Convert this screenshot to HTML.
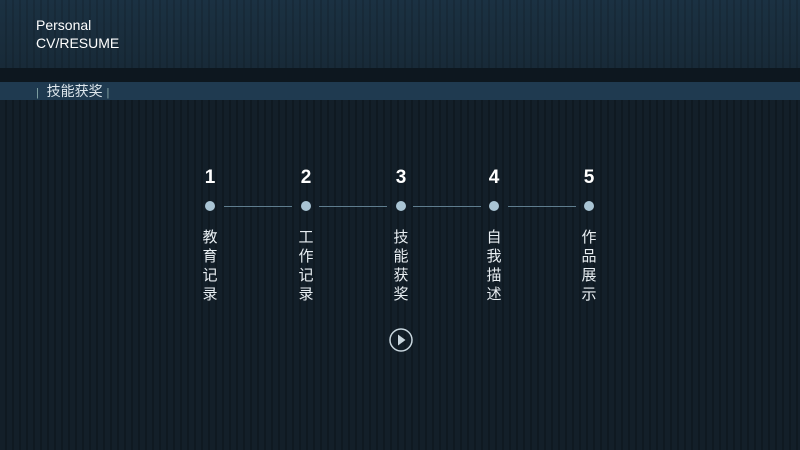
<!DOCTYPE html>
<html><head><meta charset="utf-8"><style>
body{margin:0;width:800px;height:450px;overflow:hidden;background:#121d26;font-family:"Liberation Sans","Noto Sans CJK SC",sans-serif;position:relative}
.bg{position:absolute;inset:0;background:repeating-linear-gradient(90deg,#131f29 0 5px,#0f1921 5px 7px)}
.hdr{position:absolute;left:0;top:0;width:800px;height:68px;background:linear-gradient(#1b3142,#182a38);}
.hdr:after{content:"";position:absolute;inset:0;background:repeating-linear-gradient(90deg,rgba(255,255,255,0.0) 0 5px,rgba(0,0,0,0.12) 5px 7px)}
.strip{position:absolute;left:0;top:68px;width:800px;height:14px;background:#0d171f}
.band{position:absolute;left:0;top:82px;width:800px;height:18px;background:#1f3a50}
.t{position:absolute;color:#fff}
.num{position:absolute;color:#fff;font-size:19px;font-weight:bold;width:30px;text-align:center;top:167px}
.dot{position:absolute;width:10px;height:10px;border-radius:50%;background:#a9c4d4;top:201px}
.line{position:absolute;height:1px;background:#5f7d8e;top:206px}
.v{position:absolute;color:#e8eef2;font-size:15px;width:20px;text-align:center;line-height:19px;top:228px}
</style></head><body>
<div class="bg"></div>
<div class="hdr"></div>
<div class="strip"></div>
<div class="band"></div>
<div class="t" style="left:36px;top:16px;font-size:14px;line-height:18px">Personal<br>CV/RESUME</div>
<div class="t" style="left:36px;top:82px;font-size:14px;line-height:18px;color:#dde6ec"><span style="color:#8aa;font-size:11px">|</span>&nbsp; 技能获奖 <span style="color:#8aa;font-size:11px">|</span></div>

<div class="num" style="left:195px">1</div><div class="num" style="left:291px">2</div><div class="num" style="left:386px">3</div><div class="num" style="left:479px">4</div><div class="num" style="left:574px">5</div>
<div class="dot" style="left:205px"></div><div class="dot" style="left:301px"></div><div class="dot" style="left:396px"></div><div class="dot" style="left:489px"></div><div class="dot" style="left:584px"></div>
<div class="line" style="left:224px;width:68px"></div>
<div class="line" style="left:319px;width:68px"></div>
<div class="line" style="left:413px;width:68px"></div>
<div class="line" style="left:508px;width:68px"></div>
<div class="v" style="left:200px">教<br>育<br>记<br>录</div>
<div class="v" style="left:296px">工<br>作<br>记<br>录</div>
<div class="v" style="left:391px">技<br>能<br>获<br>奖</div>
<div class="v" style="left:484px">自<br>我<br>描<br>述</div>
<div class="v" style="left:579px">作<br>品<br>展<br>示</div>
<svg style="position:absolute;left:388px;top:327px" width="26" height="26"><circle cx="13" cy="13" r="11" fill="none" stroke="#c8d6de" stroke-width="1.5"/><path d="M10 7.5 L17.5 13 L10 18.5Z" fill="#c8d6de"/></svg>
</body></html>
